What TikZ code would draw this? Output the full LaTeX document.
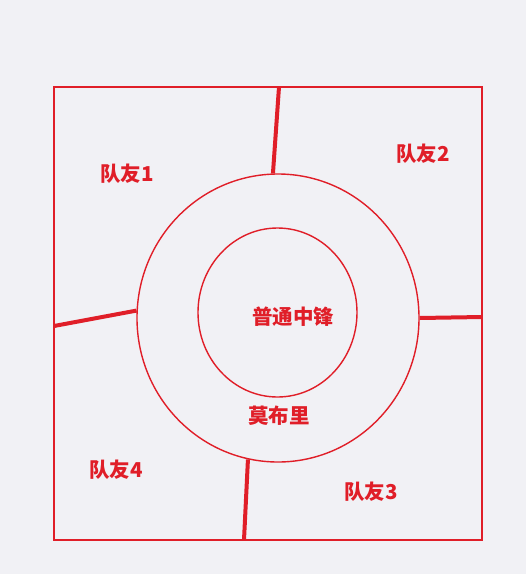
\documentclass[tikz,border=0pt]{standalone}
\usepackage{fontspec}
\newfontfamily\cjk{Noto Sans CJK SC}
\usetikzlibrary{positioning,shapes.geometric}
\definecolor{bg}{RGB}{241,241,245}
\definecolor{hong}{RGB}{224,30,40}

\begin{document}
\begin{tikzpicture}[x=1pt,y=-1pt,
    ring/.style={draw=hong,line width=1.4pt,ellipse,inner sep=0pt},
    bar/.style={draw=hong,line width=4pt},
    lbl/.style={text=hong,font=\cjk\bfseries\fontsize{20.5}{24}\selectfont}]
      \fill[bg] (0,0) rectangle (526,574);
      \useasboundingbox (0,0) rectangle (526,574);

      \node[draw=hong,line width=1.4pt,minimum width=428pt,minimum height=453pt,inner sep=0pt] (court) at (268,313.5) {};
      \node[ring,minimum width=282pt,minimum height=288pt] (outer) at (278,318) {};
      \node[ring,minimum width=159pt,minimum height=169pt] (inner) at (277.5,312.5) {};

      % walls
      \coordinate (top) at (279,87);
      \coordinate (left) at (54,326);
      \coordinate (right) at (482,317);
      \coordinate (bottom) at (244,540);
      \draw[bar] (top) to (outer.92.4);
      \draw[bar] (left) to (outer.177);
      \draw[bar] (right) to (outer.0.4);
      \draw[bar] (bottom) to (outer.258.8);

      \node[lbl] (mate1) at (127,174) {队友1};
      \node[lbl] (mate2) at (423,154) {队友2};
      \node[lbl] (mate3) at (371,492) {队友3};
      \node[lbl] (mate4) at (116,470) {队友4};
      \node[lbl] (centre) at (293,317) {普通中锋};
      \node[lbl] (mobley) at (279,416) {莫布里};
    \end{tikzpicture}
\end{document}
